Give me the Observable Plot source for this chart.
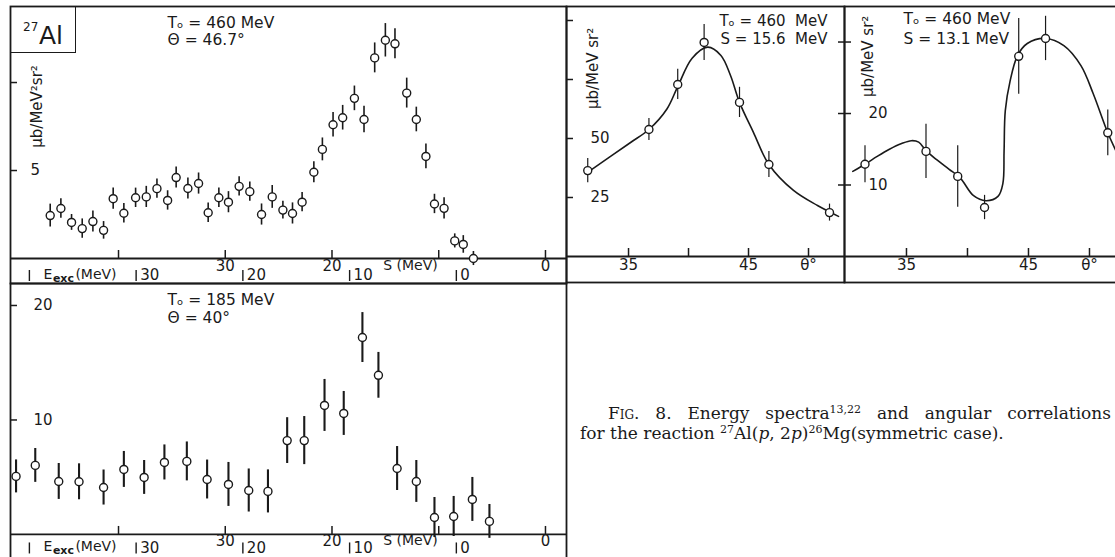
<!DOCTYPE html>
<html>
<head>
<meta charset="utf-8">
<script src="https://cdn.jsdelivr.net/npm/d3@7"></script>
<script src="https://cdn.jsdelivr.net/npm/@observablehq/plot@0.6"></script>
<style>
  html, body { margin: 0; padding: 0; background: #fff; }
  body { width: 1115px; height: 557px; overflow: hidden; position: relative; }
  .panel { position: absolute; }
  .panel svg { display: block; overflow: visible; }
  .cap { position: absolute; font-family: "DejaVu Serif", serif; font-size: 17px; line-height: 20px; color: #1a1a1a; white-space: nowrap; }
  .cap sup { font-size: 11px; vertical-align: 0; position: relative; top: -6px; }
  .sc { font-variant: small-caps; }
  #al { position: absolute; left: 10px; top: 6px; width: 65px; height: 46px; border-right: 1.7px solid #1a1a1a; border-bottom: 1.7px solid #1a1a1a; font-family: "DejaVu Sans", sans-serif; color: #1a1a1a; }
  #al span { position: absolute; line-height: 1; }
</style>
</head>
<body>
<div id="pA" class="panel" style="left:0;top:0"></div>
<div id="pB" class="panel" style="left:562px;top:0"></div>
<div id="pC" class="panel" style="left:840px;top:0"></div>
<div id="pD" class="panel" style="left:0;top:279px"></div>
<div id="al"><span style="left:13px;top:15px;font-size:12px">27</span><span style="left:29px;top:17px;font-size:25px">Al</span></div>
<div class="cap" style="left:608px;top:403px;width:503px;white-space:normal;text-align:justify;text-align-last:justify"><span class="sc">Fig.</span> 8. Energy spectra<sup>13,22</sup> and angular correlations</div>
<div class="cap" style="left:580px;top:423px">for the reaction <sup>27</sup>Al(<i>p</i>, 2<i>p</i>)<sup>26</sup>Mg(symmetric case).</div>
<script>
// ---------------- DATA ----------------
// Panel A: energy spectrum, T0 = 460 MeV, theta = 46.7 deg  (x = S in MeV)
const aS   = [46.4,45.4,44.4,43.4,42.4,41.4,40.5,39.5,38.4,37.4,36.4,35.4,34.6,33.5,32.5,31.6,30.6,29.7,28.7,27.7,26.6,25.6,24.6,23.7,22.8,21.7,20.9,19.9,19.0,17.9,17.0,16.0,15.0,14.1,13.0,12.1,11.2,10.4,9.5,8.5,7.7,6.75];
const aY   = [2.44,2.84,2.05,1.7,2.1,1.6,3.4,2.57,3.45,3.5,3.97,3.3,4.6,3.98,4.26,2.6,3.45,3.2,4.1,3.8,2.5,3.5,2.75,2.56,3.2,4.9,6.2,7.6,8.0,9.1,7.9,11.4,12.4,12.2,9.4,7.9,5.8,3.1,2.85,1.0,0.8,0.0];
const aErr = [0.65,0.55,0.45,0.55,0.6,0.5,0.6,0.55,0.55,0.6,0.55,0.55,0.6,0.6,0.6,0.55,0.55,0.6,0.55,0.55,0.6,0.65,0.5,0.6,0.55,0.6,0.65,0.7,0.7,0.7,0.75,0.85,0.95,0.85,0.85,0.7,0.7,0.55,0.6,0.4,0.5,0.4];
const aInfo = ["Tₒ = 460 MeV", "Θ = 46.7°"];

// Panel D: energy spectrum, T0 = 185 MeV, theta = 40 deg
const dS   = [49.6,47.8,45.6,43.7,41.4,39.5,37.6,35.7,33.6,31.7,29.7,27.8,26.0,24.2,22.6,20.7,18.9,17.15,15.65,13.9,12.1,10.4,8.6,6.85,5.25];
const dY   = [5.07,6.03,4.63,4.6,4.1,5.68,4.98,6.29,6.38,4.8,4.37,3.84,3.76,8.2,8.2,11.27,10.57,17.2,13.9,5.76,4.63,1.48,1.57,3.06,1.14];
const dErr = [1.44,1.48,1.57,1.57,1.53,1.57,1.48,1.53,1.7,1.7,1.92,1.88,1.88,2.0,2.1,2.27,1.92,2.18,2.0,1.92,1.83,1.75,1.75,1.92,1.48];
const dInfo = ["Tₒ = 185 MeV", "Θ = 40°"];

// Panel B: angular correlation, T0 = 460 MeV, S = 15.6 MeV
const bTheta = [31.6,36.7,39.1,41.3,44.25,46.7,51.75];
const bY     = [36.4,53.8,72.9,90.7,65.3,39.0,18.6];
const bErr   = [5.1,4.7,6.4,7.6,6.4,5.5,3.6];
const bCurveTheta = [31.5,33.5,35.2,36.7,38.2,39.1,40.3,41.6,42.7,43.5,44.25,45.4,46.7,48.75,50.75,52.5];
const bCurveY     = [35.3,42.4,48.4,53.8,62.5,72.0,84.0,88.7,85.2,76.7,65.3,52.7,39.0,28.0,21.6,17.0];
const bInfo = ["Tₒ = 460  MeV", "S = 15.6  MeV"];

// Panel C: angular correlation, T0 = 460 MeV, S = 13.1 MeV
const cTheta = [31.6,36.6,39.2,41.4,44.2,46.4,51.5];
const cY     = [12.9,14.7,11.2,6.85,28.0,30.5,17.3];
const cErr   = [2.6,3.8,4.3,1.7,5.3,3.1,3.2];
const cCurveTheta = [30.6,31.6,32.6,33.6,34.6,35.4,36.0,36.6,37.5,38.5,39.4,40.5,41.5,42.5,42.9,43.0,43.1,43.5,44.1,44.9,46.4,47.9,49.3,50.3,51.5,52.3];
const cCurveY     = [11.9,12.9,14.0,15.0,15.8,16.2,16.0,14.8,13.5,12.2,11.0,8.5,7.8,8.4,10.2,14.8,20.4,24.6,28.1,29.8,30.5,29.5,26.7,22.8,17.3,14.3];
const cInfo = ["Tₒ = 460 MeV", "S = 13.1 MeV"];

// Axes
const sTicks = [40, 30, 20, 10, 0];
const sTickLabels = ["", "30", "20", "S (MeV)", "0"];
const eTicks = [40, 30, 20, 10, 0];
const eTickLabels = ["", "30", "20", "10", "0"];
const separationEnergy = 8.35;   // S = E_exc + 8.35 MeV
const thetaTicks = [35, 40, 45, 50];
const thetaTickLabels = ["35", "", "45", "θ°"];
const aYTicks = [10, 5], aYTickLabels = ["", "5"];
const dYTicks = [20, 10], dYTickLabels = ["20", "10"];
const bYTicks = [100, 75, 50, 25], bYTickLabels = ["", "", "50", "25"];
const cYTicks = [30, 20, 10], cYTickLabels = ["", "20", "10"];
const spectrumUnit = "μb/MeV²sr²";
const angularUnit = "μb/MeV sr²";

// ---------------- DRAWING ----------------
const INK = "#1a1a1a";
const FONT = "DejaVu Sans, sans-serif";
const baseStyle = {background: "transparent", overflow: "visible", maxWidth: "none", fontFamily: FONT, fontSize: "15px", color: INK};
const zipPts = (X, Y, E) => X.map((x, i) => ({x, y: Y[i], e: E ? E[i] : 0}));
const pairs = (V, L) => V.map((v, i) => ({v, label: L[i]}));

function panel(cfg) {
  const {width, height, mL, mR, mT, mB, xDomain, yDomain} = cfg;
  const kx = (width - mL - mR) / Math.abs(xDomain[1] - xDomain[0]);
  const ky = (height - mT - mB) / Math.abs(yDomain[1] - yDomain[0]);
  const sgn = Math.sign(xDomain[1] - xDomain[0]);
  const xL = xDomain[0];
  const lab = cfg.labelDy || [9, 17];
  const marks = [
    Plot.frame({stroke: INK, strokeWidth: 1.8}),
    Plot.ruleY([0], {stroke: INK, strokeWidth: 1.8}),
    // x ticks pointing up from the axis line
    Plot.ruleX(cfg.xTicks, {x: d => d, y1: 0, y2: 8 / ky, stroke: INK, strokeWidth: 1.5}),
    Plot.text(pairs(cfg.xTicks, cfg.xTickLabels).filter(d => d.label && d.label !== "S (MeV)"),
      {x: "v", y: () => 0, dy: lab[0], text: "label", fontSize: 15, fill: INK}),
    // y ticks pointing inwards from the left border
    Plot.ruleY(cfg.yTicks, {y: d => d, x1: xL - sgn * (cfg.outTick || 0) / kx, x2: xL + sgn * 7 / kx, stroke: INK, strokeWidth: 1.5}),
    Plot.text(pairs(cfg.yTicks, cfg.yTickLabels).filter(d => d.label),
      {y: "v", frameAnchor: "left", dx: cfg.yLabDx, text: "label", fontSize: 15, fill: INK}),
  ];
  if (cfg.spectrum) {
    const e0 = eTicks[0] + separationEnergy;
    marks.push(
      Plot.text(["S (MeV)"], {x: () => 10, y: () => 0, dx: -1, dy: lab[0] - 1, textAnchor: "end", fontSize: 14, fill: INK}),
      Plot.ruleX(eTicks.map(e => e + separationEnergy), {x: d => d, y1: -(lab[1] - 5) / ky, y2: -(lab[1] + 6) / ky, stroke: INK, strokeWidth: 1.4}),
      Plot.text(pairs(eTicks, eTickLabels).filter(d => d.label),
        {x: d => d.v + separationEnergy, y: () => 0, dx: 4, dy: lab[1], textAnchor: "start", text: "label", fontSize: 15, fill: INK}),
      Plot.text(["E"], {x: () => e0, y: () => 0, dx: 14, dy: lab[1] - 1, textAnchor: "start", fontSize: 14, fill: INK}),
      Plot.text(["exc"], {x: () => e0, y: () => 0, dx: 23.5, dy: lab[1] + 3, textAnchor: "start", fontSize: 11, fontWeight: "bold", fill: INK}),
      Plot.text(["(MeV)"], {x: () => e0, y: () => 0, dx: 46, dy: lab[1] - 1, textAnchor: "start", fontSize: 14, fill: INK})
    );
  }
  if (cfg.yUnit) {
    marks.push(Plot.text([cfg.yUnit], {x: () => cfg.yUnitAt[0], y: () => cfg.yUnitAt[1], rotate: -90, fontSize: 15, fill: INK}));
  }
  if (cfg.curve) {
    marks.push(Plot.line(cfg.curve, {x: "x", y: "y", curve: "catmull-rom", stroke: INK, strokeWidth: 1.6}));
  }
  marks.push(
    Plot.ruleX(cfg.points, {x: "x", y1: d => d.y - d.e, y2: d => d.y + d.e, stroke: INK, strokeWidth: cfg.errWidth}),
    Plot.dot(cfg.points, {x: "x", y: "y", r: 4, fill: "white", stroke: INK, strokeWidth: 1.4})
  );
  cfg.info.forEach((t, i) => {
    marks.push(Plot.text([t], {frameAnchor: cfg.infoAnchor, lineAnchor: "middle", dx: cfg.infoDx, dy: cfg.infoDy[i],
      textAnchor: cfg.infoAnchor === "top-right" ? "end" : "start", fontSize: cfg.infoSize || 16, fill: INK}));
  });
  return Plot.plot({
    width, height, marginLeft: mL, marginRight: mR, marginTop: mT, marginBottom: mB,
    x: {domain: xDomain, axis: null},
    y: {domain: yDomain, axis: null},
    style: baseStyle,
    marks
  });
}

document.getElementById("pA").append(panel({
  width: 570, height: 290, mL: 10, mR: 4, mT: 6, mB: 7,
  xDomain: [50.12, -1.97], yDomain: [-1.42, 14.32],
  spectrum: true, xTicks: sTicks, xTickLabels: sTickLabels, labelDy: [8, 17],
  yTicks: aYTicks, yTickLabels: aYTickLabels, yLabDx: 20,
  yUnit: spectrumUnit, yUnitAt: [47.6, 8.64],
  points: zipPts(aS, aY, aErr), errWidth: 1.6,
  info: aInfo, infoAnchor: "top-left", infoDx: 157, infoDy: [16.5, 34], infoSize: 15.5
}));

document.getElementById("pD").append(panel({
  width: 570, height: 294, mL: 10, mR: 4, mT: 4, mB: 0,
  xDomain: [50.12, -1.97], yDomain: [-3.41, 21.92],
  spectrum: true, xTicks: sTicks, xTickLabels: sTickLabels, labelDy: [7, 13.5],
  yTicks: dYTicks, yTickLabels: dYTickLabels, yLabDx: 23,
  points: zipPts(dS, dY, dErr), errWidth: 2.1,
  info: dInfo, infoAnchor: "top-left", infoDx: 157, infoDy: [17, 34.5], infoSize: 15.5
}));

document.getElementById("pB").append(panel({
  width: 286, height: 286, mL: 4, mR: 4, mT: 6, mB: 4,
  xDomain: [29.83, 53.0], yDomain: [-11.02, 105.93],
  xTicks: thetaTicks, xTickLabels: thetaTickLabels,
  yTicks: bYTicks, yTickLabels: bYTickLabels, yLabDx: 24,
  yUnit: angularUnit, yUnitAt: [32.08, 79.7],
  curve: zipPts(bCurveTheta, bCurveY), points: zipPts(bTheta, bY, bErr), errWidth: 1.2,
  info: bInfo, infoAnchor: "top-right", infoDx: -17, infoDy: [15, 33], infoSize: 15
}));

document.getElementById("pC").append(panel({
  width: 300, height: 286, mL: 4, mR: 6, mT: 6, mB: 4,
  xDomain: [29.92, 53.69], yDomain: [-3.64, 34.97],
  xTicks: thetaTicks, xTickLabels: thetaTickLabels,
  yTicks: cYTicks, yTickLabels: cYTickLabels, yLabDx: 24, outTick: 6,
  yUnit: angularUnit, yUnitAt: [31.89, 28.0],
  curve: zipPts(cCurveTheta, cCurveY), points: zipPts(cTheta, cY, cErr), errWidth: 1.2,
  info: cInfo, infoAnchor: "top-left", infoDx: 59, infoDy: [13, 32.5], infoSize: 15.5
}));
</script>
</body>
</html>
